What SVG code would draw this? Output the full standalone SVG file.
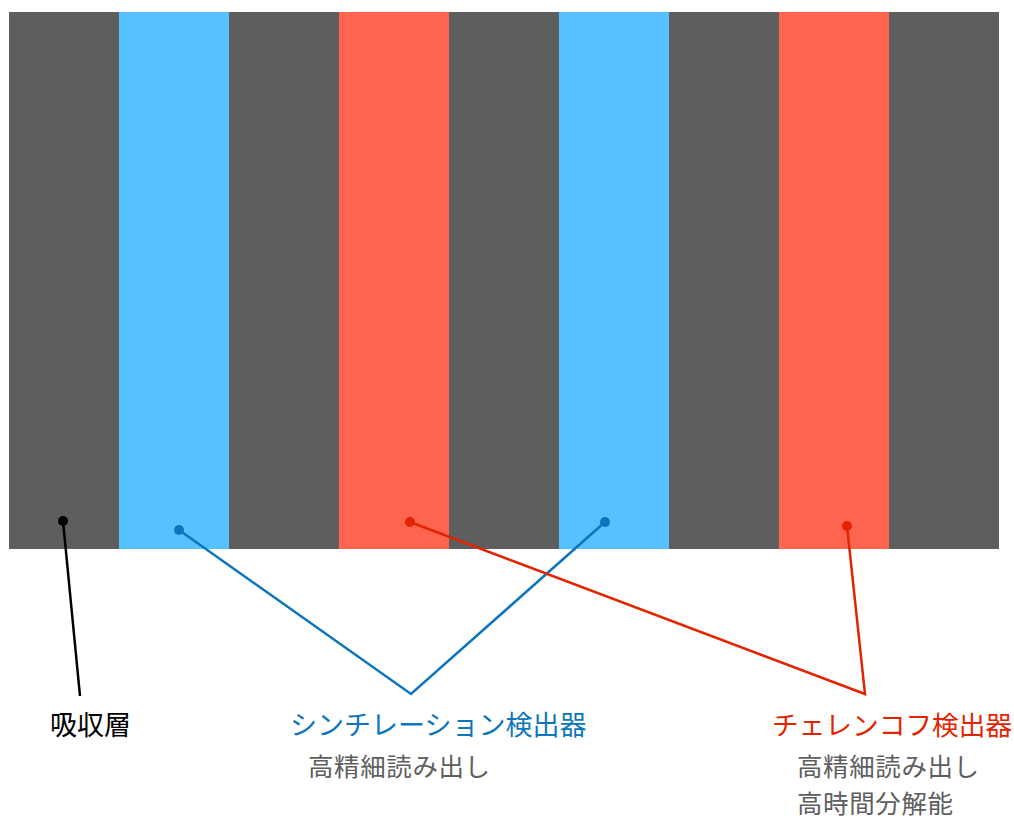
<svg xmlns="http://www.w3.org/2000/svg" width="1014" height="820" viewBox="0 0 1014 820">
<style>
.abs{fill:#5e5e5e}
.sci{fill:#56c1ff}
.chr{fill:#ff644e}
text{font-family:"Noto Sans CJK JP","Noto Sans",sans-serif;font-size:27px}
.t-blk{fill:#000}
.t-blu{fill:#0b76bb}
.t-red{fill:#e32400;font-size:26.7px}
.t-sub{fill:#5e5e5e;font-size:25.5px;letter-spacing:0.6px}
.l-blk{stroke:#000;stroke-width:2.5;fill:none}
.l-blu{stroke:#0b76bb;stroke-width:2.5;fill:none}
.l-red{stroke:#e32400;stroke-width:2.5;fill:none}
</style>
<rect width="1014" height="820" fill="#fff"/>
<g id="layers">
<rect class="abs" x="9" y="12" width="110" height="537"/>
<rect class="sci" x="119" y="12" width="110" height="537"/>
<rect class="abs" x="229" y="12" width="110" height="537"/>
<rect class="chr" x="339" y="12" width="110" height="537"/>
<rect class="abs" x="449" y="12" width="110" height="537"/>
<rect class="sci" x="559" y="12" width="110" height="537"/>
<rect class="abs" x="669" y="12" width="110" height="537"/>
<rect class="chr" x="779" y="12" width="110" height="537"/>
<rect class="abs" x="889" y="12" width="110" height="537"/>
</g>
<g id="connectors">
<line class="l-blk" x1="63" y1="521" x2="80" y2="696"/>
<polyline class="l-blu" points="179,530 411,694 605,522"/>
<polyline class="l-red" points="410,522 865,694 847,526"/>
<circle cx="63" cy="521" r="5" fill="#000"/>
<circle cx="179" cy="530" r="5" fill="#0b76bb"/>
<circle cx="605" cy="522" r="5" fill="#0b76bb"/>
<circle cx="410" cy="522" r="5" fill="#e32400"/>
<circle cx="847" cy="526" r="5" fill="#e32400"/>
</g>
<g id="label-absorber">
<text class="t-blk" x="50" y="735">吸収層</text>
</g>
<g id="label-scint">
<text class="t-blu" x="290" y="735">シンチレーション検出器</text>
<text class="t-sub" x="308" y="776">高精細読み出し</text>
</g>
<g id="label-cherenkov">
<text class="t-red" x="772" y="735">チェレンコフ検出器</text>
<text class="t-sub" x="797" y="776">高精細読み出し</text>
<text class="t-sub" x="797" y="813">高時間分解能</text>
</g>
</svg>
